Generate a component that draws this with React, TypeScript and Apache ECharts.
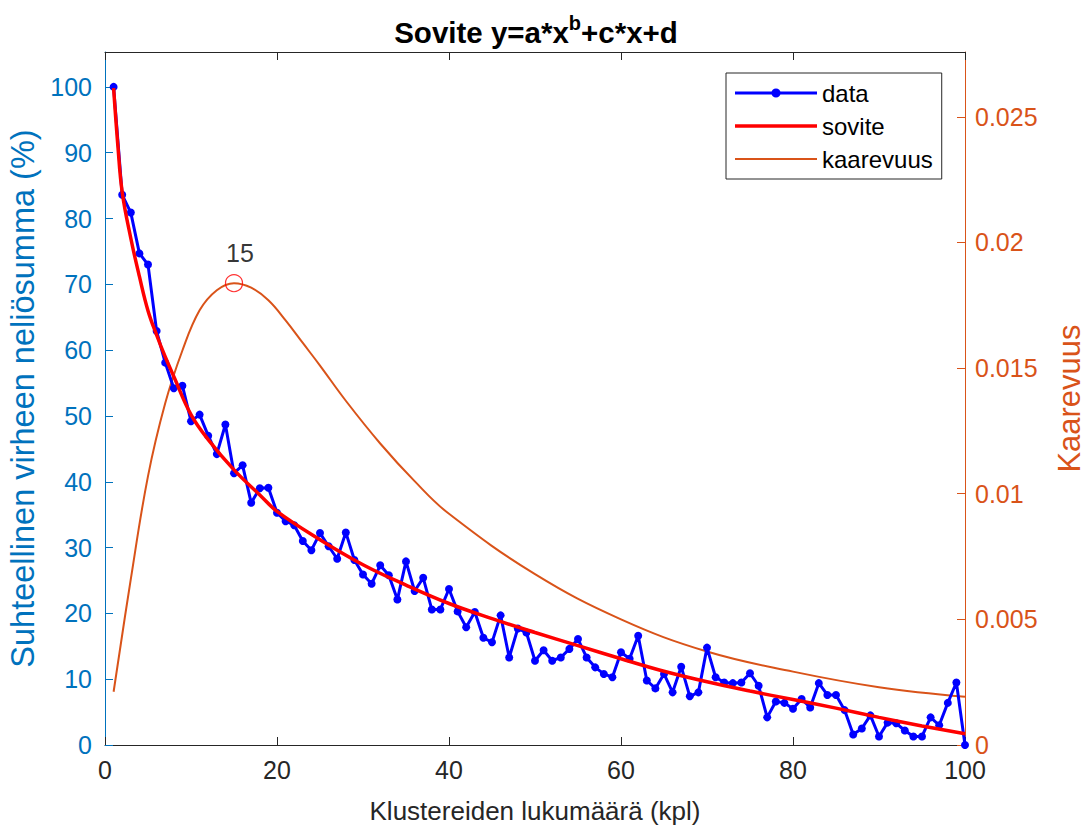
import React, { useEffect, useRef } from "react";
import * as echarts from "echarts";

// ---- data ----
const clusters = Array.from({ length: 100 }, (_, i) => i + 1);
const dataValues = [
  100, 83.6, 80.9, 74.7, 73.0, 62.9, 58.1, 54.2, 54.6, 49.2,
  50.2, 47.0, 44.2, 48.7, 41.3, 42.5, 36.8, 39.0, 39.1, 35.3,
  34.0, 33.4, 31.0, 29.6, 32.2, 30.2, 28.3, 32.3, 28.1, 25.9,
  24.5, 27.3, 25.8, 22.1, 27.9, 23.4, 25.4, 20.6, 20.6, 23.7,
  20.3, 17.9, 20.2, 16.3, 15.6, 19.7, 13.3, 17.7, 17.1, 12.8,
  14.4, 12.8, 13.3, 14.6, 16.1, 13.3, 11.8, 10.8, 10.3, 14.1,
  13.1, 16.6, 9.8, 8.6, 10.8, 8.0, 11.9, 7.4, 8.0, 14.8,
  10.3, 9.5, 9.4, 9.5, 10.9, 9.0, 4.2, 6.6, 6.4, 5.5,
  7.0, 5.7, 9.4, 7.6, 7.6, 5.3, 1.6, 2.5, 4.5, 1.3,
  3.4, 3.3, 2.2, 1.3, 1.3, 4.2, 3.0, 6.4, 9.5, 0,
];

const fitX = [1, 1.5, 2, 3, 4, 5, 6, 7, 8, 10, 12, 15, 18, 20, 25, 30, 35, 40, 45, 50, 55, 60, 65, 70, 75, 80, 85, 90, 95, 100];
const fitY = [99.8, 91, 84, 77, 71.2, 66, 62.3, 59, 56, 50.2, 46.4, 41.8, 38, 35.5, 31.2, 27.4, 24.3, 21.5, 19.2, 17.1, 15.1, 13.1, 11.2, 9.6, 8.2, 6.9, 5.6, 4.2, 2.9, 1.7];

const curvX = [1, 3, 5, 7, 9, 11, 13, 15, 17, 19, 21, 23, 25, 28, 32, 36, 40, 50, 60, 70, 80, 90, 100];
const curvY = [0.00212, 0.0066, 0.0107, 0.0136, 0.0157, 0.0173, 0.0181, 0.01838, 0.0182, 0.0177, 0.0169, 0.016, 0.0151, 0.0137, 0.012, 0.0105, 0.0092, 0.0068, 0.005, 0.00372, 0.00292, 0.0023, 0.00192];

const peakX = 15;
const peakY = 0.01838;
const peakLabel = "15";

const xTicks = [0, 20, 40, 60, 80, 100];
const leftTicks = [0, 10, 20, 30, 40, 50, 60, 70, 80, 90, 100];
const rightTicks = [0, 0.005, 0.01, 0.015, 0.02, 0.025];

const FONT = "'Liberation Sans', Arial, Helvetica, sans-serif";
const BLUE_AX = "#0072BD";
const ORANGE = "#D95319";
const DARK = "#262626";

export default function App() {
  const ref = useRef<HTMLDivElement>(null);
  useEffect(() => {
    if (!ref.current) return;
    const chart = echarts.init(ref.current, undefined, { renderer: "svg" });
    const option: any = {
      animation: false,
      backgroundColor: "#fff",
      textStyle: { fontFamily: FONT },
      grid: { left: 105, right: 121, top: 52, bottom: 83, containLabel: false, outerBoundsMode: "none" },
      graphic: [
        {
          type: "text",
          x: 536,
          y: 32,
          style: {
            text: "Sovite y=a*x{sup|b}+c*x+d",
            fill: "#000",
            fontSize: 29.5,
            fontWeight: "bold",
            fontFamily: FONT,
            align: "center",
            verticalAlign: "middle",
            rich: {
              sup: { fontSize: 20, fontWeight: "bold", fontFamily: FONT, fill: "#000", padding: [0, 0, 19, 0] },
            },
          },
        },
      ],
      legend: {
        orient: "vertical",
        left: 726,
        top: 73,
        padding: [8, 9, 8, 9],
        itemWidth: 82,
        itemHeight: 24,
        itemGap: 9,
        backgroundColor: "#fff",
        borderColor: DARK,
        borderWidth: 1,
        borderRadius: 0,
        textStyle: { fontSize: 24, color: "#000", fontFamily: FONT, lineHeight: 24 },
        data: [
          { name: "data", icon: "path://M0,6H80V9H0Z M35.5,7.5A4.5,4.5 0 1 1 44.5,7.5A4.5,4.5 0 1 1 35.5,7.5Z" },
          { name: "sovite", icon: "path://M0,0H80V3.5H0Z" },
          { name: "kaarevuus", icon: "path://M0,0H80V2H0Z" },
        ],
      },
      xAxis: [
        {
          type: "value",
          position: "bottom",
          min: 0,
          max: 100,
          interval: 20,
          axisLine: { show: true, onZero: false, lineStyle: { color: DARK, width: 1 } },
          axisTick: { show: true, inside: true, length: 8, customValues: xTicks, lineStyle: { color: DARK } },
          axisLabel: { color: DARK, fontSize: 25, margin: 12, fontFamily: FONT, customValues: xTicks },
          splitLine: { show: false },
          name: "Klustereiden lukumäärä (kpl)",
          nameLocation: "middle",
          nameGap: 53,
          nameTextStyle: { color: DARK, fontSize: 26, fontFamily: FONT },
        },
        {
          type: "value",
          position: "top",
          min: 0,
          max: 100,
          interval: 20,
          axisLine: { show: true, onZero: false, lineStyle: { color: DARK, width: 1 } },
          axisTick: { show: true, inside: true, length: 8, customValues: xTicks, lineStyle: { color: DARK } },
          axisLabel: { show: false },
          splitLine: { show: false },
        },
      ],
      yAxis: [
        {
          type: "value",
          position: "left",
          min: 0,
          max: 105.3,
          axisLine: { show: true, onZero: false, lineStyle: { color: BLUE_AX, width: 1 } },
          axisTick: { show: true, inside: true, length: 8, customValues: leftTicks, lineStyle: { color: BLUE_AX } },
          axisLabel: { color: BLUE_AX, fontSize: 25, margin: 13, fontFamily: FONT, customValues: leftTicks },
          splitLine: { show: false },
          name: "Suhteellinen virheen neliösumma (%)",
          nameLocation: "middle",
          nameRotate: 90,
          nameGap: 65,
          nameTextStyle: { color: BLUE_AX, fontSize: 32.5, fontFamily: FONT },
        },
        {
          type: "value",
          position: "right",
          min: 0,
          max: 0.02758,
          axisLine: { show: true, onZero: false, lineStyle: { color: ORANGE, width: 1 } },
          axisTick: { show: true, inside: true, length: 8, customValues: rightTicks, lineStyle: { color: ORANGE } },
          axisLabel: {
            color: ORANGE,
            fontSize: 25,
            margin: 10,
            fontFamily: FONT,
            customValues: rightTicks,
            formatter: (v: number) => String(v),
          },
          splitLine: { show: false },
          name: "Kaarevuus",
          nameLocation: "middle",
          nameRotate: 90,
          nameGap: 89,
          nameTextStyle: { color: ORANGE, fontSize: 31, fontFamily: FONT },
        },
      ],
      series: [
        {
          name: "data",
          type: "line",
          xAxisIndex: 0,
          yAxisIndex: 0,
          data: clusters.map((c, i) => [c, dataValues[i]]),
          color: "#0000FF",
          symbol: "circle",
          symbolSize: 8,
          showSymbol: true,
          lineStyle: { color: "#0000FF", width: 3 },
          itemStyle: { color: "#0000FF" },
          z: 3,
        },
        {
          name: "sovite",
          type: "line",
          xAxisIndex: 0,
          yAxisIndex: 0,
          data: fitX.map((x, i) => [x, fitY[i]]),
          color: "#FF0000",
          smooth: 0.4,
          symbol: "none",
          lineStyle: { color: "#FF0000", width: 3.5 },
          z: 4,
        },
        {
          name: "kaarevuus",
          type: "line",
          xAxisIndex: 0,
          yAxisIndex: 1,
          data: curvX.map((x, i) => [x, curvY[i]]),
          color: ORANGE,
          smooth: 0.4,
          symbol: "none",
          lineStyle: { color: ORANGE, width: 2 },
          z: 2,
        },
        {
          name: "peak",
          type: "scatter",
          xAxisIndex: 0,
          yAxisIndex: 1,
          data: [[peakX, peakY]],
          symbol: "circle",
          symbolSize: 17,
          itemStyle: { color: "rgba(0,0,0,0)", borderColor: "#FF0000", borderWidth: 1.2 },
          label: {
            show: true,
            position: "top",
            distance: 9,
            offset: [6, 0],
            formatter: peakLabel,
            color: "#000",
            fontSize: 25,
            fontFamily: FONT,
          },
          z: 5,
        },
      ],
    };
    chart.setOption(option);
    return () => chart.dispose();
  }, []);
  return (
    <div
      ref={ref}
      style={{ position: "fixed", left: 0, top: 0, width: 1086, height: 828, background: "#fff" }}
    />
  );
}
